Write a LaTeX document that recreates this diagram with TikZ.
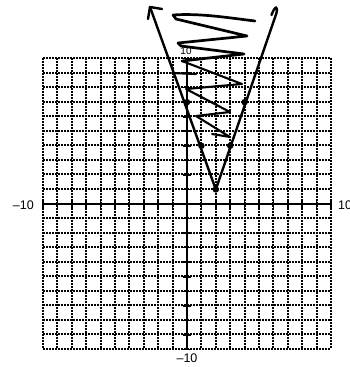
\documentclass[tikz,border=0pt]{standalone}
\usepackage{fontspec}
\setmainfont{Liberation Sans}
\begin{document}
\begin{tikzpicture}[x=1pt,y=-1pt,
  gridline/.style={line width=2pt, dash pattern=on 1.5pt off 1.5pt, black},
  axisline/.style={line width=2.2pt},
  tickmark/.style={line width=1.6pt},
  graphline/.style={line width=2.4pt, line cap=round, line join=round},
  scribble/.style={line width=2pt, line cap=round, line join=round},
  ptdot/.style={circle, fill=black, inner sep=0pt, minimum size=6.5pt},
  axlabel/.style={font=\fontsize{12.5}{12.5}\selectfont, inner sep=0pt}]
\useasboundingbox (0,0) rectangle (349,367);
% dotted grid, snapped to whole pixels
\foreach \k in {0,...,20} {
  \pgfmathsetmacro\gx{round(43+14.4*\k)}
  \pgfmathsetmacro\gy{round(58+14.55*\k)}
  \draw[gridline] (\gx,58) -- (\gx,349);
  \draw[gridline] (43,\gy) -- (331,\gy);
}
\begin{scope}[shift={(187,204)}, x=14.4pt, y=14.55pt]
  \draw[axisline] (-10,0) -- (10,0);
  \draw[axisline] (0,-10) -- (0,10);
  \foreach \i in {-10,...,10} {
    \draw[tickmark] (\i,-0.25) -- (\i,0.25);
    \draw[tickmark] (-0.25,\i) -- (0.25,\i);
  }
  \coordinate (vtx) at (2,1);
  \coordinate (q1) at (0,7);
  \coordinate (q2) at (1,4);
  \coordinate (q3) at (3,4);
  \coordinate (q4) at (4,7);
\end{scope}
% axis labels
\node[axlabel, anchor=east] (xmin) at (34,205) {\textendash10};
\node[axlabel, anchor=west] (xmax) at (338,205) {10};
\node[axlabel] (ymin) at (187,358) {\textendash10};
\node[font=\fontsize{10}{10}\selectfont, inner sep=0pt] (ymax) at (186,51) {10};
% scribble shading
\draw[scribble, line width=2.7pt] (255,21) .. controls (230,18) and (200,13) .. (173,15)
  -- (176,19) -- (247,36) -- (178,43) -- (181,46) -- (244,54) -- (182,61);
\draw[scribble, line width=2.1pt] (182,61) -- (242,84) -- (186,89) -- (230,112)
  -- (196,116) -- (230,137) -- (212,134);
\draw[scribble, line width=2.1pt] (172,73) -- (196,74);
% the V graph
\coordinate (tipL) at (150,7);
\coordinate (hookR) at (271.5,15);
\draw[graphline] (tipL) -- (vtx) -- (276.5,13) .. controls (277.8,6) and (275.5,4.5) .. (hookR);
\draw[graphline] (148,19) -- (tipL) -- (162,9);
% points
\foreach \p in {vtx,q1,q2,q3,q4} { \node[ptdot] (d\p) at (\p) {}; }
\end{tikzpicture}
\end{document}
